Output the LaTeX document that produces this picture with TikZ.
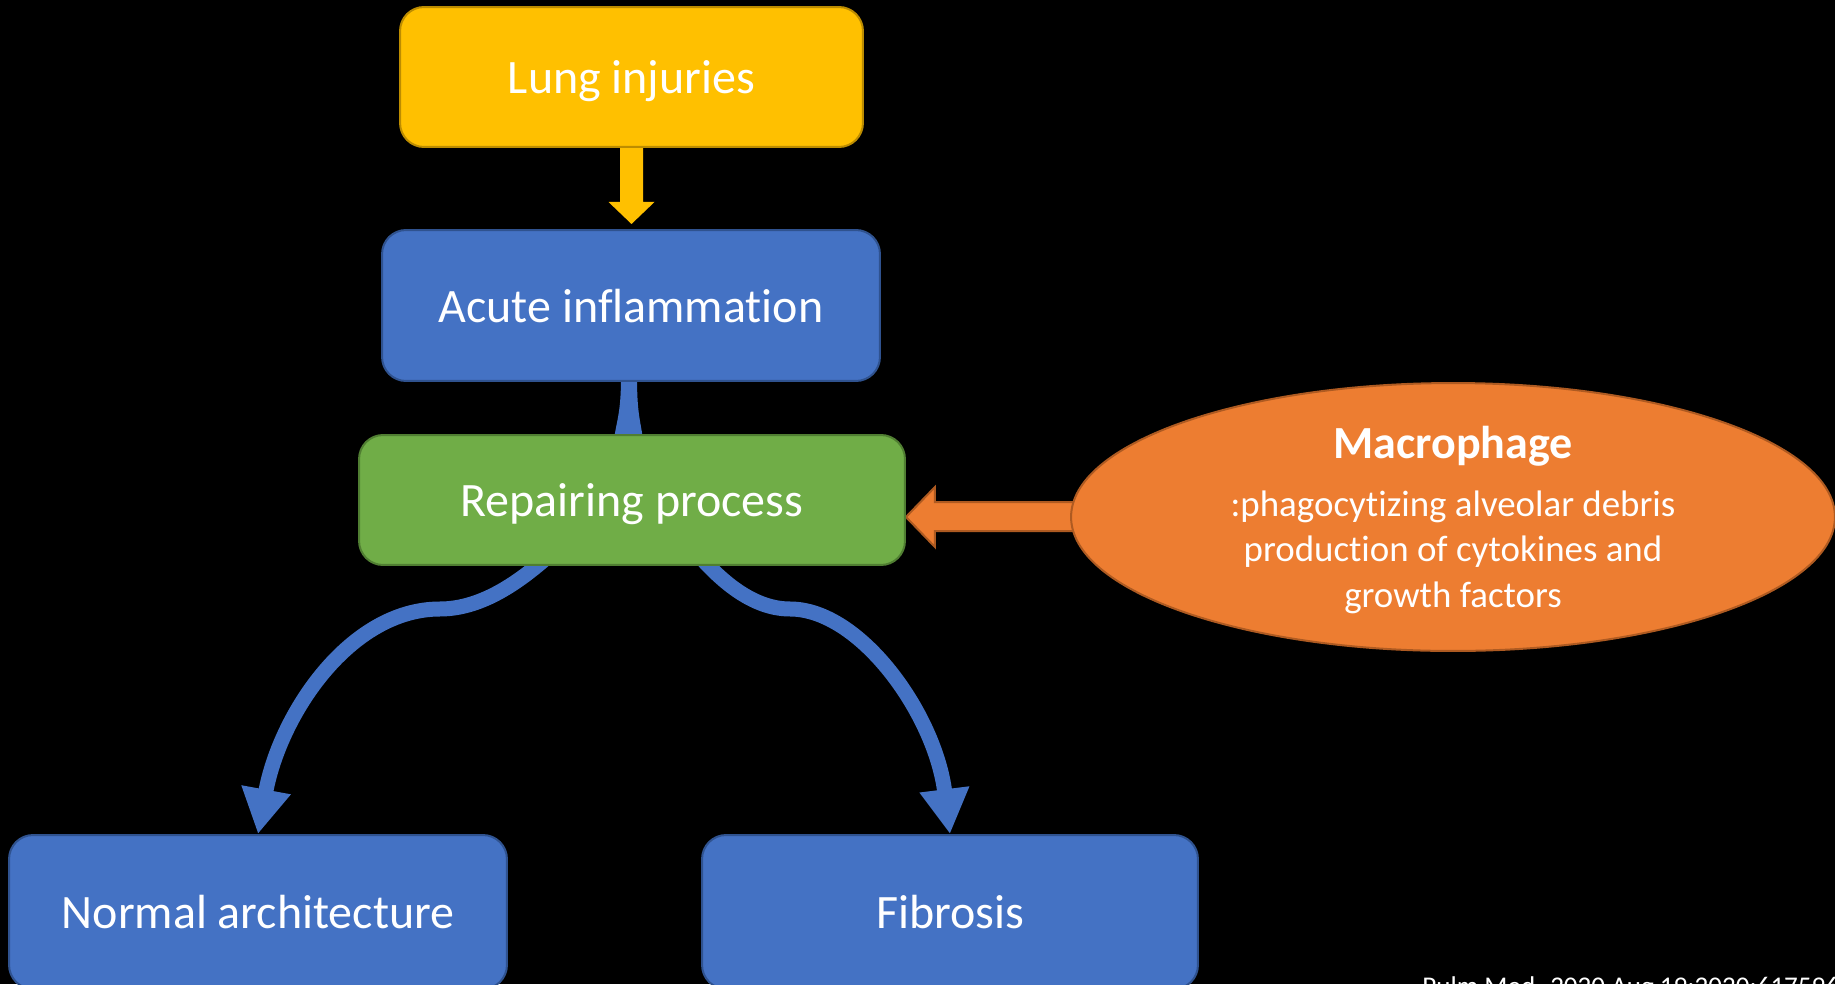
\documentclass[tikz,border=0pt]{standalone}
\usepackage{fontspec}
\setmainfont[Ligatures=NoCommon]{Carlito}
\usetikzlibrary{shapes.geometric,arrows.meta,calc}
\pgfdeclarelayer{background}
\pgfsetlayers{background,main}
\definecolor{cblue}{HTML}{4472C4}
\definecolor{bborder}{HTML}{2F528F}
\definecolor{cgreen}{HTML}{70AD47}
\definecolor{gborder}{HTML}{507E32}
\definecolor{cyellow}{HTML}{FFC000}
\definecolor{yborder}{HTML}{BC8C00}
\definecolor{corange}{HTML}{ED7D31}
\definecolor{oborder}{HTML}{AE5A21}
\begin{document}
\begin{tikzpicture}[x=0.02cm,y=-0.02cm,
  box/.style={rectangle, rounded corners=0.48cm, line width=0.04cm, inner sep=0pt,
    text=white, font=\fontsize{27.3}{32}\selectfont, text height=19pt, text depth=0pt},
  bluebox/.style={box, fill=cblue, draw=bborder},
  barrow/.style={draw=cblue, line width=0.3cm, -{Triangle[width=0.94cm,length=0.9cm]}},
  wtext/.style={text=white, inner sep=0pt}]
\useasboundingbox (0,0) rectangle (1835,984);
\begin{pgfonlayer}{background}
  \fill[black] (0,0) rectangle (1835,984);
\end{pgfonlayer}
\clip (0,0) rectangle (1835,984);

% nodes
\node[box, fill=cyellow, draw=yborder, minimum width=9.26cm, minimum height=2.8cm] (lung) at (631.5,77) {Lung injuries};
\node[bluebox, minimum width=9.96cm, minimum height=3.02cm] (acute) at (631,305.5) {Acute inflammation};
\node[box, fill=cgreen, draw=gborder, minimum width=10.92cm, minimum height=2.6cm] (rep) at (632,500) {Repairing process};
\node[bluebox, minimum width=9.96cm, minimum height=3.08cm] (norm) at (258,912) {Normal architecture};
\node[bluebox, minimum width=9.92cm, minimum height=3.08cm] (fib) at (950,912) {Fibrosis};
\node[ellipse, fill=corange, draw=oborder, line width=0.04cm, inner sep=0pt,
      minimum width=15.28cm, minimum height=5.36cm] (mac) at (1453,517) {};
\node[wtext, anchor=base, font=\bfseries\fontsize{26.2}{30}\selectfont] (mactitle) at ($(mac)+(0,-59)$) {Macrophage};
\node[wtext, anchor=base, align=center, font=\fontsize{21}{25.9}\selectfont] (macbody) at ($(mac)+(0,90)$)
  {:phagocytizing alveolar debris\\production of cytokines and\\growth factors};
\node[wtext, anchor=base west, font=\fontsize{15.4}{18}\selectfont] (cite) at (1422,995) {Pulm Med. 2020 Aug 19;2020:6175964};

% connectors
\begin{pgfonlayer}{background}
  \fill[cyellow, shift={(lung.south)}] (-11.5,-3) -- (-11.5,54) -- (-23,54) -- (0,76) -- (23,54) -- (11.5,54) -- (11.5,-3) -- cycle;
  \fill[cblue] ($(acute.south)+(-10,-5)$) .. controls ($(acute.south)+(-10,30)$) and ($(rep.north)+(-15,-15)$) .. ($(rep.north)+(-18,5)$)
     -- ($(rep.north)+(11,5)$) .. controls ($(rep.north)+(8,-15)$) and ($(acute.south)+(6,30)$) .. ($(acute.south)+(6,-5)$) -- cycle;
  \draw[fill=corange, draw=oborder, line width=0.04cm, shift={(rep.east)}]
     (0,17) -- (29,-13) -- (29,2) -- (175,2) -- (175,31) -- (29,31) -- (29,47) -- cycle;
  \draw[barrow] ($(rep.south)+(-88,-6)$) .. controls +(-28,24) and +(40,0) .. ++(-104,49)
     .. controls +(-90,0) and +(22,-120) .. (norm.north);
  \draw[barrow] ($(rep.south)+(71,-6)$) .. controls +(22,24) and +(-35,0) .. ++(87,49)
     .. controls +(70,0) and +(-15,-120) .. (fib.north);
\end{pgfonlayer}
\end{tikzpicture}
\end{document}
